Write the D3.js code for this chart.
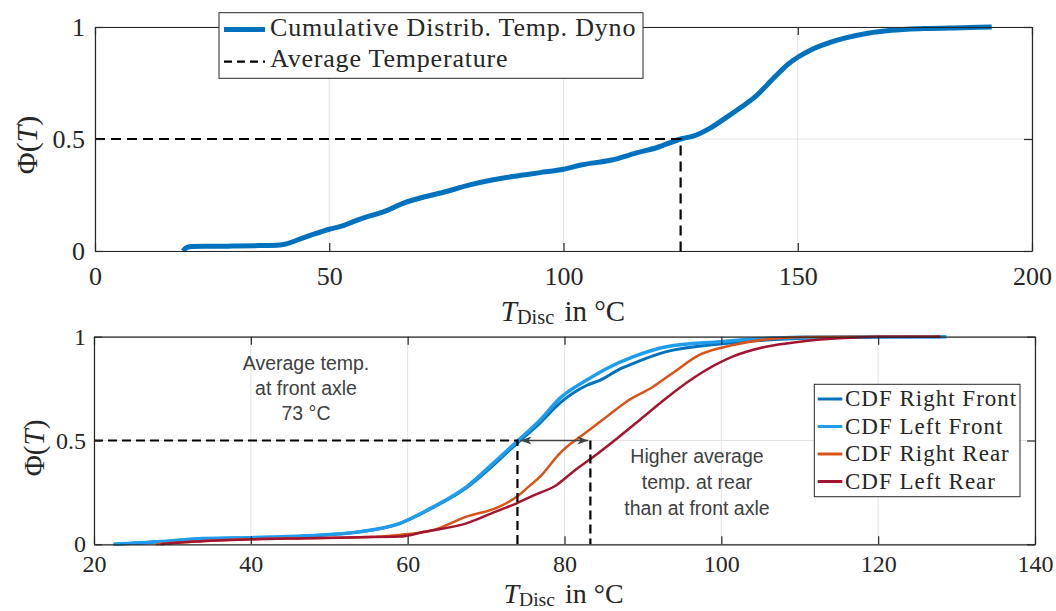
<!DOCTYPE html>
<html>
<head>
<meta charset="utf-8">
<script src="https://cdn.jsdelivr.net/npm/d3@7"></script>
<style>
  body { margin: 0; background: #fff; }
  svg { display: block; }
</style>
</head>
<body>
<script>
// dyno temperature distribution (top plot)
var dynoT   = [18.8, 19.3, 20.5, 25, 30, 35, 39.5, 45, 50, 53, 55, 58, 62, 66, 70, 74, 80, 85, 90, 95, 100, 104, 110, 116, 120, 125, 128, 131, 135, 138, 141, 145, 148, 150, 153, 156, 160, 165, 170, 177, 185, 191.4];
var dynoPhi = [0, 0.012, 0.02, 0.021, 0.022, 0.024, 0.027, 0.063, 0.097, 0.113, 0.13, 0.152, 0.178, 0.215, 0.24, 0.26, 0.295, 0.318, 0.335, 0.35, 0.365, 0.385, 0.405, 0.44, 0.462, 0.5, 0.515, 0.545, 0.6, 0.643, 0.69, 0.775, 0.835, 0.865, 0.9, 0.925, 0.95, 0.972, 0.985, 0.993, 0.997, 1.0];
var dynoAvg = 125;

// road measurements per wheel (bottom plot)
var rfT   = [22.5, 28.5, 33, 40, 47, 54, 59, 63.3, 67.5, 70.9, 73.9, 76.9, 79.4, 82.8, 84.5, 87.1, 88.8, 93, 99.8, 105.7, 112, 118, 128];
var rfPhi = [0, 0.012, 0.025, 0.031, 0.04, 0.06, 0.1, 0.178, 0.272, 0.38, 0.485, 0.585, 0.68, 0.765, 0.79, 0.845, 0.872, 0.928, 0.965, 0.984, 0.994, 0.999, 1.0];
var lfT   = [22.5, 28.5, 33, 40, 47, 54, 59, 63.3, 67.5, 70.9, 73.9, 76.9, 79.4, 82.8, 85.4, 88.8, 93, 99.8, 105, 110, 118, 128.7];
var lfPhi = [0, 0.013, 0.026, 0.032, 0.041, 0.061, 0.101, 0.181, 0.277, 0.39, 0.494, 0.599, 0.703, 0.79, 0.847, 0.904, 0.952, 0.976, 0.99, 0.997, 0.999, 1.0];
var rrT   = [27.9, 32.8, 40, 47, 54, 59, 63.3, 67.5, 71.7, 73.9, 75.5, 76.9, 79.4, 80.3, 82, 83.7, 85.4, 87.9, 91.3, 93.9, 97.2, 101.5, 105.7, 111, 118, 128];
var rrPhi = [0, 0.013, 0.024, 0.029, 0.034, 0.045, 0.069, 0.133, 0.181, 0.229, 0.28, 0.326, 0.438, 0.47, 0.518, 0.566, 0.615, 0.687, 0.759, 0.828, 0.912, 0.96, 0.987, 0.998, 1.0, 1.0];
var lrT   = [28.5, 32.8, 40, 47, 54, 59, 62.1, 67.5, 71.7, 73.9, 76, 79, 81.1, 83.7, 86.7, 89.6, 93, 96.4, 101.5, 105.7, 110, 115, 120.2, 127.9];
var lrPhi = [0, 0.013, 0.024, 0.029, 0.034, 0.037, 0.06, 0.101, 0.165, 0.197, 0.235, 0.286, 0.35, 0.422, 0.51, 0.599, 0.705, 0.8, 0.905, 0.952, 0.976, 0.992, 1.0, 1.0];
var frontAvg = 74, rearAvg = 83.3;

var topXTicks = [0, 50, 100, 150, 200];
var botXTicks = [20, 40, 60, 80, 100, 120, 140];
var yTicks = [0, 0.5, 1];

var botNames  = ["CDF Right Front", "CDF Left Front", "CDF Right Rear", "CDF Left Rear"];
var botColors = ["#0072bd", "#1f9cec", "#d95319", "#a2142f"];
var botWidths = [3, 3.5, 2.5, 2.5];
var botT   = [rfT, lfT, rrT, lrT];
var botPhi = [rfPhi, lfPhi, rrPhi, lrPhi];

var serif = "'Liberation Serif', 'Times New Roman', serif";
var sans = "'Liberation Sans', Arial, sans-serif";
var axisCol = "#262626";

var svg = d3.select("body").append("svg")
    .attr("width", 1056)
    .attr("height", 611);

svg.append("rect").attr("width", 1056).attr("height", 611).attr("fill", "#fff");

var xTop = d3.scaleLinear().domain([0, 200]).range([95, 1032]);
var yTop = d3.scaleLinear().domain([0, 1]).range([251, 27]);
var xBot = d3.scaleLinear().domain([20, 140]).range([94, 1035]);
var yBot = d3.scaleLinear().domain([0, 1]).range([544.3, 336.7]);

function grid(x, y, xt) {
    var g = svg.append("g");
    g.selectAll("line.gx").data(xt).enter().append("line")
        .attr("x1", function(d){ return x(d); })
        .attr("x2", function(d){ return x(d); })
        .attr("y1", y.range()[0]).attr("y2", y.range()[1])
        .attr("stroke", "#e2e2e2").attr("stroke-width", 1);
    g.selectAll("line.gy").data(yTicks).enter().append("line")
        .attr("y1", function(d){ return y(d); })
        .attr("y2", function(d){ return y(d); })
        .attr("x1", x.range()[0]).attr("x2", x.range()[1])
        .attr("stroke", "#e2e2e2").attr("stroke-width", 1);
}

function axes(x, y, xt, fs, xpad, ypad) {
    var x0 = x.range()[0], x1 = x.range()[1], y0 = y.range()[0], y1 = y.range()[1];
    var fmt = d3.format("~g");
    var b = svg.append("g").attr("transform", "translate(0," + y0 + ")")
        .call(d3.axisBottom(x).tickValues(xt).tickFormat(fmt).tickSizeInner(-8).tickSizeOuter(0).tickPadding(xpad));
    var t = svg.append("g").attr("transform", "translate(0," + y1 + ")")
        .call(d3.axisTop(x).tickValues(xt).tickFormat("").tickSizeInner(-8).tickSizeOuter(0));
    var l = svg.append("g").attr("transform", "translate(" + x0 + ",0)")
        .call(d3.axisLeft(y).tickValues(yTicks).tickFormat(fmt).tickSizeInner(-8).tickSizeOuter(0).tickPadding(ypad));
    var r = svg.append("g").attr("transform", "translate(" + x1 + ",0)")
        .call(d3.axisRight(y).tickValues(yTicks).tickFormat("").tickSizeInner(-8).tickSizeOuter(0));
    [b, t, l, r].forEach(function(a){
        a.selectAll("path, line").attr("stroke", axisCol).attr("stroke-width", 1.2);
        a.selectAll("text").attr("fill", axisCol).attr("font-family", serif).attr("font-size", fs + "px");
    });
}

function xLabel(cx, by, fs) {
    var t = svg.append("text")
        .attr("x", cx).attr("y", by)
        .attr("text-anchor", "middle")
        .attr("font-family", serif)
        .attr("font-size", fs + "px")
        .attr("fill", axisCol);
    t.append("tspan").attr("font-style", "italic").text("T");
    t.append("tspan").attr("font-size", (fs * 0.7) + "px").attr("dy", 3).text("Disc");
    t.append("tspan").attr("dy", -3).attr("dx", 3).text(" in \u00b0C");
}

function yLabel(bx, cy, fs) {
    var t = svg.append("text")
        .attr("transform", "translate(" + bx + "," + cy + ") rotate(-90)")
        .attr("text-anchor", "middle")
        .attr("font-family", serif)
        .attr("font-size", fs + "px")
        .attr("fill", axisCol);
    t.append("tspan").text("\u03a6(");
    t.append("tspan").attr("font-style", "italic").text("T");
    t.append("tspan").text(")");
}

// ---------- top plot ----------
grid(xTop, yTop, topXTicks);

var dynoData = dynoT.map(function(d, i){ return [d, dynoPhi[i]]; });
var lineTop = d3.line()
    .x(function(d){ return xTop(d[0]); })
    .y(function(d){ return yTop(d[1]); })
    .curve(d3.curveMonotoneX);

svg.append("path")
    .datum(dynoData)
    .attr("d", lineTop)
    .attr("fill", "none")
    .attr("stroke", "#0072bd")
    .attr("stroke-width", 5)
    .attr("stroke-linejoin", "round");

svg.append("path")
    .attr("d", "M" + xTop(0) + "," + yTop(0.5) + "H" + xTop(dynoAvg) + "V" + yTop(0))
    .attr("fill", "none")
    .attr("stroke", "#000")
    .attr("stroke-width", 2.2)
    .attr("stroke-dasharray", "10,6");

axes(xTop, yTop, topXTicks, 26, 16, 10);
xLabel(563, 321, 29);
yLabel(37, 145, 30);

// top legend
var lgTop = svg.append("g");
lgTop.append("rect")
    .attr("x", 219).attr("y", 12.7).attr("width", 424).attr("height", 65.6)
    .attr("fill", "#fff").attr("stroke", axisCol).attr("stroke-width", 1);
lgTop.append("line")
    .attr("x1", 224).attr("x2", 265).attr("y1", 29.5).attr("y2", 29.5)
    .attr("stroke", "#0072bd").attr("stroke-width", 5);
lgTop.append("line")
    .attr("x1", 224).attr("x2", 265).attr("y1", 61.7).attr("y2", 61.7)
    .attr("stroke", "#000").attr("stroke-width", 2.2).attr("stroke-dasharray", "8,5");
lgTop.selectAll("text")
    .data(["Cumulative Distrib. Temp. Dyno", "Average Temperature"]).enter()
    .append("text")
    .attr("x", 270)
    .attr("y", function(d, i){ return 36 + 31 * i; })
    .attr("font-family", serif)
    .attr("font-size", "26px")
    .attr("letter-spacing", "0.8px")
    .attr("fill", axisCol)
    .text(function(d){ return d; });

// ---------- bottom plot ----------
grid(xBot, yBot, botXTicks);

var lineBot = d3.line()
    .x(function(d){ return xBot(d[0]); })
    .y(function(d){ return yBot(d[1]); })
    .curve(d3.curveMonotoneX);

for (var k = 0; k < 4; k++) {
    var pts = botT[k].map(function(d, i){ return [d, botPhi[k][i]]; });
    svg.append("path")
        .datum(pts)
        .attr("d", lineBot)
        .attr("fill", "none")
        .attr("stroke", botColors[k])
        .attr("stroke-width", botWidths[k])
        .attr("stroke-linejoin", "round");
}

svg.append("path")
    .attr("d", "M" + xBot(20) + "," + yBot(0.5) + "H" + xBot(frontAvg) + "V" + yBot(0))
    .attr("fill", "none")
    .attr("stroke", "#000")
    .attr("stroke-width", 2.2)
    .attr("stroke-dasharray", "9,5");
svg.append("path")
    .attr("d", "M" + xBot(rearAvg) + "," + yBot(0.5) + "V" + yBot(0))
    .attr("fill", "none")
    .attr("stroke", "#000")
    .attr("stroke-width", 2.2)
    .attr("stroke-dasharray", "9,5");

// double arrow between the two averages
var ax0 = xBot(frontAvg) + 3, ax1 = xBot(rearAvg) - 2, ay = yBot(0.5);
svg.append("line")
    .attr("x1", ax0).attr("x2", ax1).attr("y1", ay).attr("y2", ay)
    .attr("stroke", "#404040").attr("stroke-width", 1.3);
svg.append("path")
    .attr("d", "M" + ax0 + "," + ay + "l11,-4l-3,4l3,4z" +
               "M" + ax1 + "," + ay + "l-11,-4l3,4l-3,4z")
    .attr("fill", "#404040");

axes(xBot, yBot, botXTicks, 24, 11, 8);
xLabel(563.5, 603, 28);
yLabel(44, 448, 29);

// annotations
var notes = [
    { x: 306, y: 370, lines: ["Average temp.", "at front axle", "73 \u00b0C"], dy: 25 },
    { x: 697, y: 463, lines: ["Higher average", "temp. at rear", "than at front axle"], dy: 26 }
];
notes.forEach(function(n){
    svg.append("g").selectAll("text")
        .data(n.lines).enter()
        .append("text")
        .attr("x", n.x)
        .attr("y", function(d, i){ return n.y + n.dy * i; })
        .attr("text-anchor", "middle")
        .attr("font-family", sans)
        .attr("font-size", "19.5px")
        .attr("fill", "#404040")
        .text(function(d){ return d; });
});

// bottom legend
var lgBot = svg.append("g");
lgBot.append("rect")
    .attr("x", 814.3).attr("y", 384.3).attr("width", 205.7).attr("height", 112.4)
    .attr("fill", "#fff").attr("stroke", axisCol).attr("stroke-width", 1);
lgBot.selectAll("line")
    .data(botNames).enter()
    .append("line")
    .attr("x1", 817.7).attr("x2", 842.3)
    .attr("y1", function(d, i){ return 399 + 27.5 * i; })
    .attr("y2", function(d, i){ return 399 + 27.5 * i; })
    .attr("stroke", function(d, i){ return botColors[i]; })
    .attr("stroke-width", 3);
lgBot.selectAll("text")
    .data(botNames).enter()
    .append("text")
    .attr("x", 845)
    .attr("y", function(d, i){ return 406 + 27.5 * i; })
    .attr("font-family", serif)
    .attr("font-size", "23px")
    .attr("letter-spacing", "1px")
    .attr("fill", axisCol)
    .text(function(d){ return d; });
</script>
</body>
</html>
